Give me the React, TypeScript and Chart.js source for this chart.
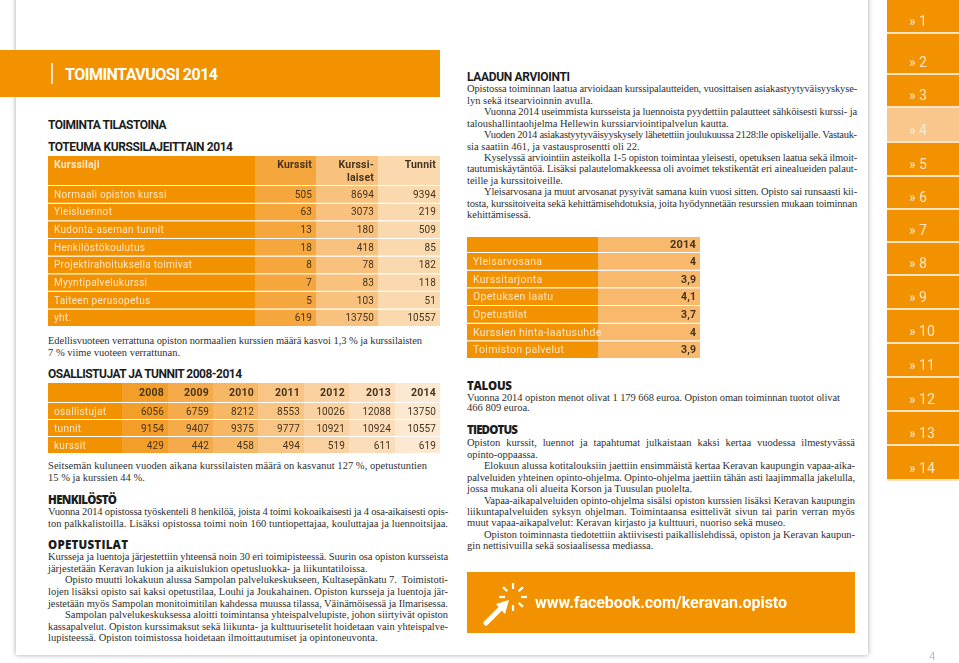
import React, { useEffect, useRef } from "react";
import { Chart, registerables } from "chart.js";
Chart.register(...registerables);

// ---------------- data ----------------
const courseTypes = [
  "Normaali opiston kurssi",
  "Yleisluennot",
  "Kudonta-aseman tunnit",
  "Henkilöstökoulutus",
  "Projektirahoituksella toimivat",
  "Myyntipalvelukurssi",
  "Taiteen perusopetus",
  "yht.",
];
const coursesHeld = [505, 63, 13, 18, 8, 7, 5, 619];
const courseParticipants = [8694, 3073, 180, 418, 78, 83, 103, 13750];
const courseHours = [9394, 219, 509, 85, 182, 118, 51, 10557];
const courseHeaders = ["Kurssilaji", "Kurssit", "Kurssi-\nlaiset", "Tunnit"];

const years = ["2008", "2009", "2010", "2011", "2012", "2013", "2014"];
const yearRows = ["osallistujat", "tunnit", "kurssit"];
const participantsByYear = [6056, 6759, 8212, 8553, 10026, 12088, 13750];
const hoursByYear = [9154, 9407, 9375, 9777, 10921, 10924, 10557];
const coursesByYear = [429, 442, 458, 494, 519, 611, 619];

const ratingItems = [
  "Yleisarvosana",
  "Kurssitarjonta",
  "Opetuksen laatu",
  "Opetustilat",
  "Kurssien hinta-laatusuhde",
  "Toimiston palvelut",
];
const ratings2014 = [4, 3.9, 4.1, 3.7, 4, 3.9];
const ratingHeaders = ["", "2014"];

const navPages = ["» 1", "» 2", "» 3", "» 4", "» 5", "» 6", "» 7", "» 8", "» 9", "» 10", "» 11", "» 12", "» 13", "» 14"];
const currentPage = 4;

// ---------------- styles ----------------
const ORANGE = "#F39200";
const CREAM = "#FDE7C8";
const DARK = "#45331f";
const TEXT = "#2f2f2f";
const SERIF = '"Liberation Serif", serif';
const DIN = "Roboto, sans-serif";
const GEO = '"Open Sans", sans-serif';

const fmt = (v: number) => String(v).replace(".", ",");

type TableProps = {
  edges: number[];
  top: number;
  headerH: number;
  rowH: number;
  headerY: number;
  headers: string[];
  cells: string[][];
  colColors: string[];
  fs: number;
  valueBold?: boolean;
};

function TableChart(p: TableProps) {
  const ref = useRef<HTMLCanvasElement>(null);
  const e0 = p.edges[0];
  const W = p.edges[p.edges.length - 1] - e0;
  const H = Math.round(p.headerH + p.cells.length * p.rowH);
  useEffect(() => {
    const nCols = p.edges.length - 1;
    const plugin = {
      id: "tableText",
      afterDatasetsDraw(chart: any) {
        const ctx = chart.ctx;
        const xs = chart.scales.x;
        const ys = chart.scales.y;
        ctx.save();
        ctx.textBaseline = "middle";
        for (let c = 0; c < nCols; c++) {
          const x0 = xs.getPixelForValue(p.edges[c] - e0);
          const x1 = xs.getPixelForValue(p.edges[c + 1] - e0);
          ctx.fillStyle = p.colColors[c];
          ctx.fillRect(x0, 0, x1 - x0, p.headerH - 1);
          ctx.fillStyle = c === 0 ? CREAM : DARK;
          ctx.font = `700 ${p.fs + 0.5}px ${DIN}`;
          ctx.letterSpacing = "0.2px";
          ctx.textAlign = c === 0 ? "left" : "right";
          p.headers[c].split("\n").forEach((ln, k) => {
            ctx.fillText(ln, c === 0 ? x0 + 6 : x1 - 4, p.headerY + k * 13);
          });
        }
        p.cells.forEach((row, r) => {
          const yc = ys.getPixelForValue(r) + 0.5;
          row.forEach((txt, c) => {
            const x0 = xs.getPixelForValue(p.edges[c] - e0);
            const x1 = xs.getPixelForValue(p.edges[c + 1] - e0);
            if (c === 0) {
              ctx.font = `400 ${p.fs}px ${DIN}`;
              ctx.letterSpacing = "0.3px";
              ctx.fillStyle = CREAM;
              ctx.textAlign = "left";
              ctx.fillText(txt, x0 + 6, yc);
            } else {
              ctx.font = `${p.valueBold ? 700 : 400} ${p.fs}px ${DIN}`;
              ctx.letterSpacing = "0.1px";
              ctx.fillStyle = DARK;
              ctx.textAlign = "right";
              ctx.fillText(txt, x1 - 4, yc);
            }
          });
        });
        ctx.restore();
      },
    };
    const chart = new Chart(ref.current as HTMLCanvasElement, {
      type: "bar",
      data: {
        labels: p.cells.map((r) => r[0]),
        datasets: Array.from({ length: nCols }, (_, c) => ({
          label: p.headers[c],
          data: p.cells.map(() => [p.edges[c] - e0, p.edges[c + 1] - e0]),
          backgroundColor: p.colColors[c],
          borderColor: "#ffffff",
          borderWidth: { top: 0, right: 0, bottom: 1, left: 0 },
          borderSkipped: false,
          grouped: false,
          categoryPercentage: 1,
          barPercentage: 1,
          inflateAmount: 0,
        })) as any,
      },
      options: {
        indexAxis: "y",
        responsive: false,
        maintainAspectRatio: false,
        animation: false,
        events: [],
        layout: { padding: { top: p.headerH, left: 0, right: 0, bottom: 0 } },
        scales: {
          x: { type: "linear", display: false, min: 0, max: W },
          y: { type: "category", display: false },
        },
        plugins: { legend: { display: false }, tooltip: { enabled: false } },
      } as any,
      plugins: [plugin],
    });
    return () => chart.destroy();
  }, []);
  return (
    <canvas
      ref={ref}
      width={W}
      height={H}
      style={{ position: "absolute", left: e0, top: p.top, width: W, height: H, display: "block" }}
    />
  );
}

// ---------------- text helpers ----------------
const mctx = document.createElement("canvas").getContext("2d") as CanvasRenderingContext2D;

type LineProps = {
  x: number;
  y: number;
  w?: number;
  fit?: number;
  text: string;
  justify?: boolean;
  indent?: number;
  size: number;
  family: string;
  weight?: number;
  color: string;
  lh?: number;
  dy?: number;
};

function Line(p: LineProps) {
  const weight = p.weight ?? 400;
  const lh = p.lh ?? 12;
  const indent = p.indent ?? 0;
  mctx.font = `${weight} ${p.size}px ${p.family}`;
  const nat = mctx.measureText(p.text).width;
  let ws = 0;
  let ls = 0;
  if (p.fit !== undefined) {
    ls = (p.fit - nat) / Math.max(1, p.text.length - 1);
  } else if (p.w !== undefined) {
    const avail = p.w - indent;
    if (p.justify) {
      const sp = (p.text.match(/ /g) || []).length;
      if (nat < avail && sp > 0) ws = (avail - nat) / sp;
      else ls = (avail - nat) / p.text.length;
    } else if (nat > avail) ls = (avail - nat) / p.text.length;
  }
  return (
    <div
      style={{
        position: "absolute",
        left: p.x + indent,
        top: p.y - lh / 2 + (p.dy ?? 0),
        height: lh,
        lineHeight: lh + "px",
        whiteSpace: "pre",
        fontFamily: p.family,
        fontSize: p.size,
        fontWeight: weight,
        color: p.color,
        wordSpacing: ws,
        letterSpacing: ls,
      }}
    >
      {p.text}
    </div>
  );
}

type PLine = { t: string; j?: boolean; i?: boolean; fit?: number };

function Para({ x, y, w, step, lines }: { x: number; y: number; w: number; step: number; lines: PLine[] }) {
  return (
    <>
      {lines.map((l, k) => (
        <Line
          key={k}
          x={x}
          y={y + k * step}
          w={l.fit === undefined ? w : undefined}
          fit={l.fit}
          text={l.t}
          justify={l.j}
          indent={l.i ? 17 : 0}
          size={10.5}
          family={SERIF}
          color={TEXT}
          lh={Math.min(12, step)}
          dy={-1}
        />
      ))}
    </>
  );
}

function Heading({ x, y, text, w, geo }: { x: number; y: number; text: string; w: number; geo?: boolean }) {
  return (
    <Line x={x} y={y} fit={w} text={text} size={geo ? 11.5 : 12} family={geo ? GEO : DIN} weight={geo ? 800 : 700} color="#1d1d1d" lh={10} />
  );
}

// ---------------- paragraphs ----------------
const paraA: PLine[] = [
  { t: "Edellisvuoteen verrattuna opiston normaalien kurssien määrä kasvoi 1,3 % ja kurssilaisten", fit: 374 },
  { t: "7 % viime vuoteen verrattunan." },
];
const paraB: PLine[] = [
  { t: "Seitsemän kuluneen vuoden aikana kurssilaisten määrä on kasvanut 127 %, opetustuntien", fit: 379 },
  { t: "15 % ja kurssien 44 %." },
];
const paraC: PLine[] = [
  { t: "Vuonna 2014 opistossa työskenteli 8 henkilöä, joista 4 toimi kokoaikaisesti ja 4 osa-aikaisesti opis-", j: true },
  { t: "ton palkkalistoilla. Lisäksi opistossa toimi noin 160 tuntiopettajaa, kouluttajaa ja luennoitsijaa.", j: true },
];
const paraD: PLine[] = [
  { t: "Kursseja ja luentoja järjestettiin yhteensä noin 30 eri toimipisteessä. Suurin osa opiston kursseista", j: true },
  { t: "järjestetään Keravan lukion ja aikuislukion opetusluokka- ja liikuntatiloissa." },
  { t: "Opisto muutti lokakuun alussa Sampolan palvelukeskukseen, Kultasepänkatu 7.  Toimistoti-", j: true, i: true },
  { t: "lojen lisäksi opisto sai kaksi opetustilaa, Louhi ja Joukahainen. Opiston kursseja ja luentoja jär-", j: true },
  { t: "jestetään myös Sampolan monitoimitilan kahdessa muussa tilassa, Väinämöisessä ja Ilmarisessa.", j: true },
  { t: "Sampolan palvelukeskuksessa aloitti toimintansa yhteispalvelupiste, johon siirtyivät opiston", j: true, i: true },
  { t: "kassapalvelut. Opiston kurssimaksut sekä liikunta- ja kulttuurisetelit hoidetaan vain yhteispalve-", j: true },
  { t: "lupisteessä. Opiston toimistossa hoidetaan ilmoittautumiset ja opintoneuvonta." },
];
const paraE: PLine[] = [
  { t: "Opistossa toiminnan laatua arvioidaan kurssipalautteiden, vuosittaisen asiakastyytyväisyyskyse-", j: true },
  { t: "lyn sekä itsearvioinnin avulla." },
  { t: "Vuonna 2014 useimmista kursseista ja luennoista pyydettiin palautteet sähköisesti kurssi- ja", j: true, i: true },
  { t: "taloushallintaohjelma Hellewin kurssiarviointipalvelun kautta." },
  { t: "Vuoden 2014 asiakastyytyväisyyskysely lähetettiin joulukuussa 2128:lle opiskelijalle. Vastauk-", j: true, i: true },
  { t: "sia saatiin 461, ja vastausprosentti oli 22." },
  { t: "Kyselyssä arviointiin asteikolla 1-5 opiston toimintaa yleisesti, opetuksen laatua sekä ilmoit-", j: true, i: true },
  { t: "tautumiskäytäntöä. Lisäksi palautelomakkeessa oli avoimet tekstikentät eri ainealueiden palaut-", j: true },
  { t: "teille ja kurssitoiveille." },
  { t: "Yleisarvosana ja muut arvosanat pysyivät samana kuin vuosi sitten. Opisto sai runsaasti kii-", j: true, i: true },
  { t: "tosta, kurssitoiveita sekä kehittämisehdotuksia, joita hyödynnetään resurssien mukaan toiminnan", j: true },
  { t: "kehittämisessä." },
];
const paraF: PLine[] = [
  { t: "Vuonna 2014 opiston menot olivat 1 179 668 euroa. Opiston oman toiminnan tuotot olivat", fit: 373 },
  { t: "466 809 euroa." },
];
const paraG: PLine[] = [
  { t: "Opiston kurssit, luennot ja tapahtumat julkaistaan kaksi kertaa vuodessa ilmestyvässä", j: true },
  { t: "opinto-oppaassa." },
  { t: "Elokuun alussa kotitalouksiin jaettiin ensimmäistä kertaa Keravan kaupungin vapaa-aika-", j: true, i: true },
  { t: "palveluiden yhteinen opinto-ohjelma. Opinto-ohjelma jaettiin tähän asti laajimmalla jakelulla,", j: true },
  { t: "jossa mukana oli alueita Korson ja Tuusulan puolelta." },
  { t: "Vapaa-aikapalveluiden opinto-ohjelma sisälsi opiston kurssien lisäksi Keravan kaupungin", j: true, i: true },
  { t: "liikuntapalveluiden syksyn ohjelman. Toimintaansa esittelivät sivun tai parin verran myös", j: true },
  { t: "muut vapaa-aikapalvelut: Keravan kirjasto ja kulttuuri, nuoriso sekä museo." },
  { t: "Opiston toiminnasta tiedotettiin aktiivisesti paikallislehdissä, opiston ja Keravan kaupun-", j: true, i: true },
  { t: "gin nettisivuilla sekä sosiaalisessa mediassa." },
];

// nav layout (pixel boundaries)
const navEdges = [0, 33, 74, 107, 142, 176, 209, 242, 275, 309, 343, 377, 411, 445, 480];

function Nav() {
  return (
    <div style={{ position: "absolute", left: 887, top: 0, width: 72, height: 481, background: "#FCE3C2" }}>
      {navPages.map((t, k) => (
        <div
          key={k}
          style={{
            position: "absolute",
            left: 0,
            top: navEdges[k] + (k === 0 ? 0 : 1),
            width: 72,
            height: navEdges[k + 1] - navEdges[k] - (k === 0 ? 1 : 2),
            background: k + 1 === currentPage ? "#F9C68B" : ORANGE,
          }}
        >
          <div
            style={{
              position: "absolute",
              left: 22,
              bottom: 2,
              fontFamily: DIN,
              fontWeight: 400,
              fontSize: 14,
              lineHeight: "18px",
              color: k + 1 === currentPage ? "#FDEBD3" : "#FCE6C6",
              whiteSpace: "pre",
            }}
          >
            {t}
          </div>
        </div>
      ))}
    </div>
  );
}

function Cursor() {
  const cx = 513;
  const cy = 597;
  const angles = [-90, -45, 0, 45, 90, 180, -135];
  return (
    <svg style={{ position: "absolute", left: 0, top: 0 }} width={959} height={663}>
      {angles.map((a, k) => {
        const r = (a * Math.PI) / 180;
        return (
          <line
            key={k}
            x1={cx + Math.cos(r) * 8}
            y1={cy + Math.sin(r) * 8}
            x2={cx + Math.cos(r) * 14}
            y2={cy + Math.sin(r) * 14}
            stroke="#ffffff"
            strokeWidth={2.2}
          />
        );
      })}
      <polygon points="509,600 505,614 496,604" fill="#ffffff" />
      <line x1={501} y1={608} x2={486} y2={623} stroke="#ffffff" strokeWidth={5} strokeLinecap="round" />
    </svg>
  );
}

export default function App() {
  const table1Cells = courseTypes.map((name, i) => [
    name,
    String(coursesHeld[i]),
    String(courseParticipants[i]),
    String(courseHours[i]),
  ]);
  const table2Cells = yearRows.map((name, r) => [
    name,
    ...[participantsByYear, hoursByYear, coursesByYear][r].map((v) => String(v)),
  ]);
  const table3Cells = ratingItems.map((name, i) => [name, fmt(ratings2014[i])]);

  return (
    <div style={{ position: "absolute", left: 0, top: 0, width: 959, height: 663, overflow: "hidden", background: "#ffffff" }}>
      {/* paper */}
      <div
        style={{
          position: "absolute",
          left: 16,
          top: -20,
          width: 852,
          height: 675,
          background: "#ffffff",
          boxShadow: "0 0 5px rgba(0,0,0,0.35)",
        }}
      />
      {/* title banner */}
      <div style={{ position: "absolute", left: 0, top: 50, width: 440, height: 47, background: ORANGE }} />
      <div style={{ position: "absolute", left: 51, top: 63, width: 2, height: 21, background: "#FDE3BF" }} />
      <Line x={65} y={75} fit={153} text="TOIMINTAVUOSI 2014" size={16} family={DIN} weight={700} color="#ffffff" lh={20} />

      <Heading x={48} y={125} w={119} text="TOIMINTA TILASTOINA" />
      <Heading x={48} y={147} w={185} text="TOTEUMA KURSSILAJEITTAIN 2014" />

      <TableChart
        edges={[48, 255, 316, 378, 440]}
        top={156}
        headerH={30}
        rowH={17.6}
        headerY={9.5}
        headers={courseHeaders}
        cells={table1Cells}
        colColors={[ORANGE, "#F5A63D", "#F8C17E", "#FBD9AE"]}
        fs={10}
      />

      <Para x={48} y={342} w={400} step={12} lines={paraA} />

      <Heading x={48} y={374} w={195} text="OSALLISTUJAT JA TUNNIT 2008-2014" />
      <TableChart
        edges={[48, 122, 168, 213, 258, 304, 349, 395, 440]}
        top={383}
        headerH={20}
        rowH={17}
        headerY={10}
        headers={["", ...years]}
        cells={table2Cells}
        colColors={[ORANGE, "#F49E2A", "#F6AB4B", "#F7B866", "#F9C584", "#FAD1A0", "#FBDDBA", "#FDE9D1"]}
        fs={10}
      />

      <Para x={48} y={467} w={400} step={12} lines={paraB} />

      <Heading x={48} y={500} w={69} text="HENKILÖSTÖ" geo />
      <Para x={48} y={513} w={400} step={11.8} lines={paraC} />

      <Heading x={48} y={545} w={80} text="OPETUSTILAT" geo />
      <Para x={48} y={558} w={400} step={11.6} lines={paraD} />

      {/* right column */}
      <Heading x={467} y={77} w={103} text="LAADUN ARVIOINTI" />
      <Para x={467} y={90} w={390} step={11.45} lines={paraE} />

      <TableChart
        edges={[467, 598, 700]}
        top={237}
        headerH={16}
        rowH={17.7}
        headerY={8}
        headers={ratingHeaders}
        cells={table3Cells}
        colColors={[ORANGE, "#F8B96C"]}
        fs={10.5}
        valueBold
      />

      <Heading x={467} y={386} w={45} text="TALOUS" geo />
      <Para x={467} y={399} w={390} step={10.5} lines={paraF} />

      <Heading x={467} y={430} w={51} text="TIEDOTUS" geo />
      <Para x={467} y={444} w={388} step={11.45} lines={paraG} />

      {/* facebook banner */}
      <div style={{ position: "absolute", left: 467, top: 572, width: 388, height: 61, background: ORANGE }} />
      <Cursor />
      <Line x={535} y={603} fit={252} text="www.facebook.com/keravan.opisto" size={16} family={DIN} weight={700} color="#ffffff" lh={20} />

      <Nav />

      <Line x={929} y={657} text="4" size={11} family={DIN} weight={300} color="#a0a0a0" lh={12} />
    </div>
  );
}
